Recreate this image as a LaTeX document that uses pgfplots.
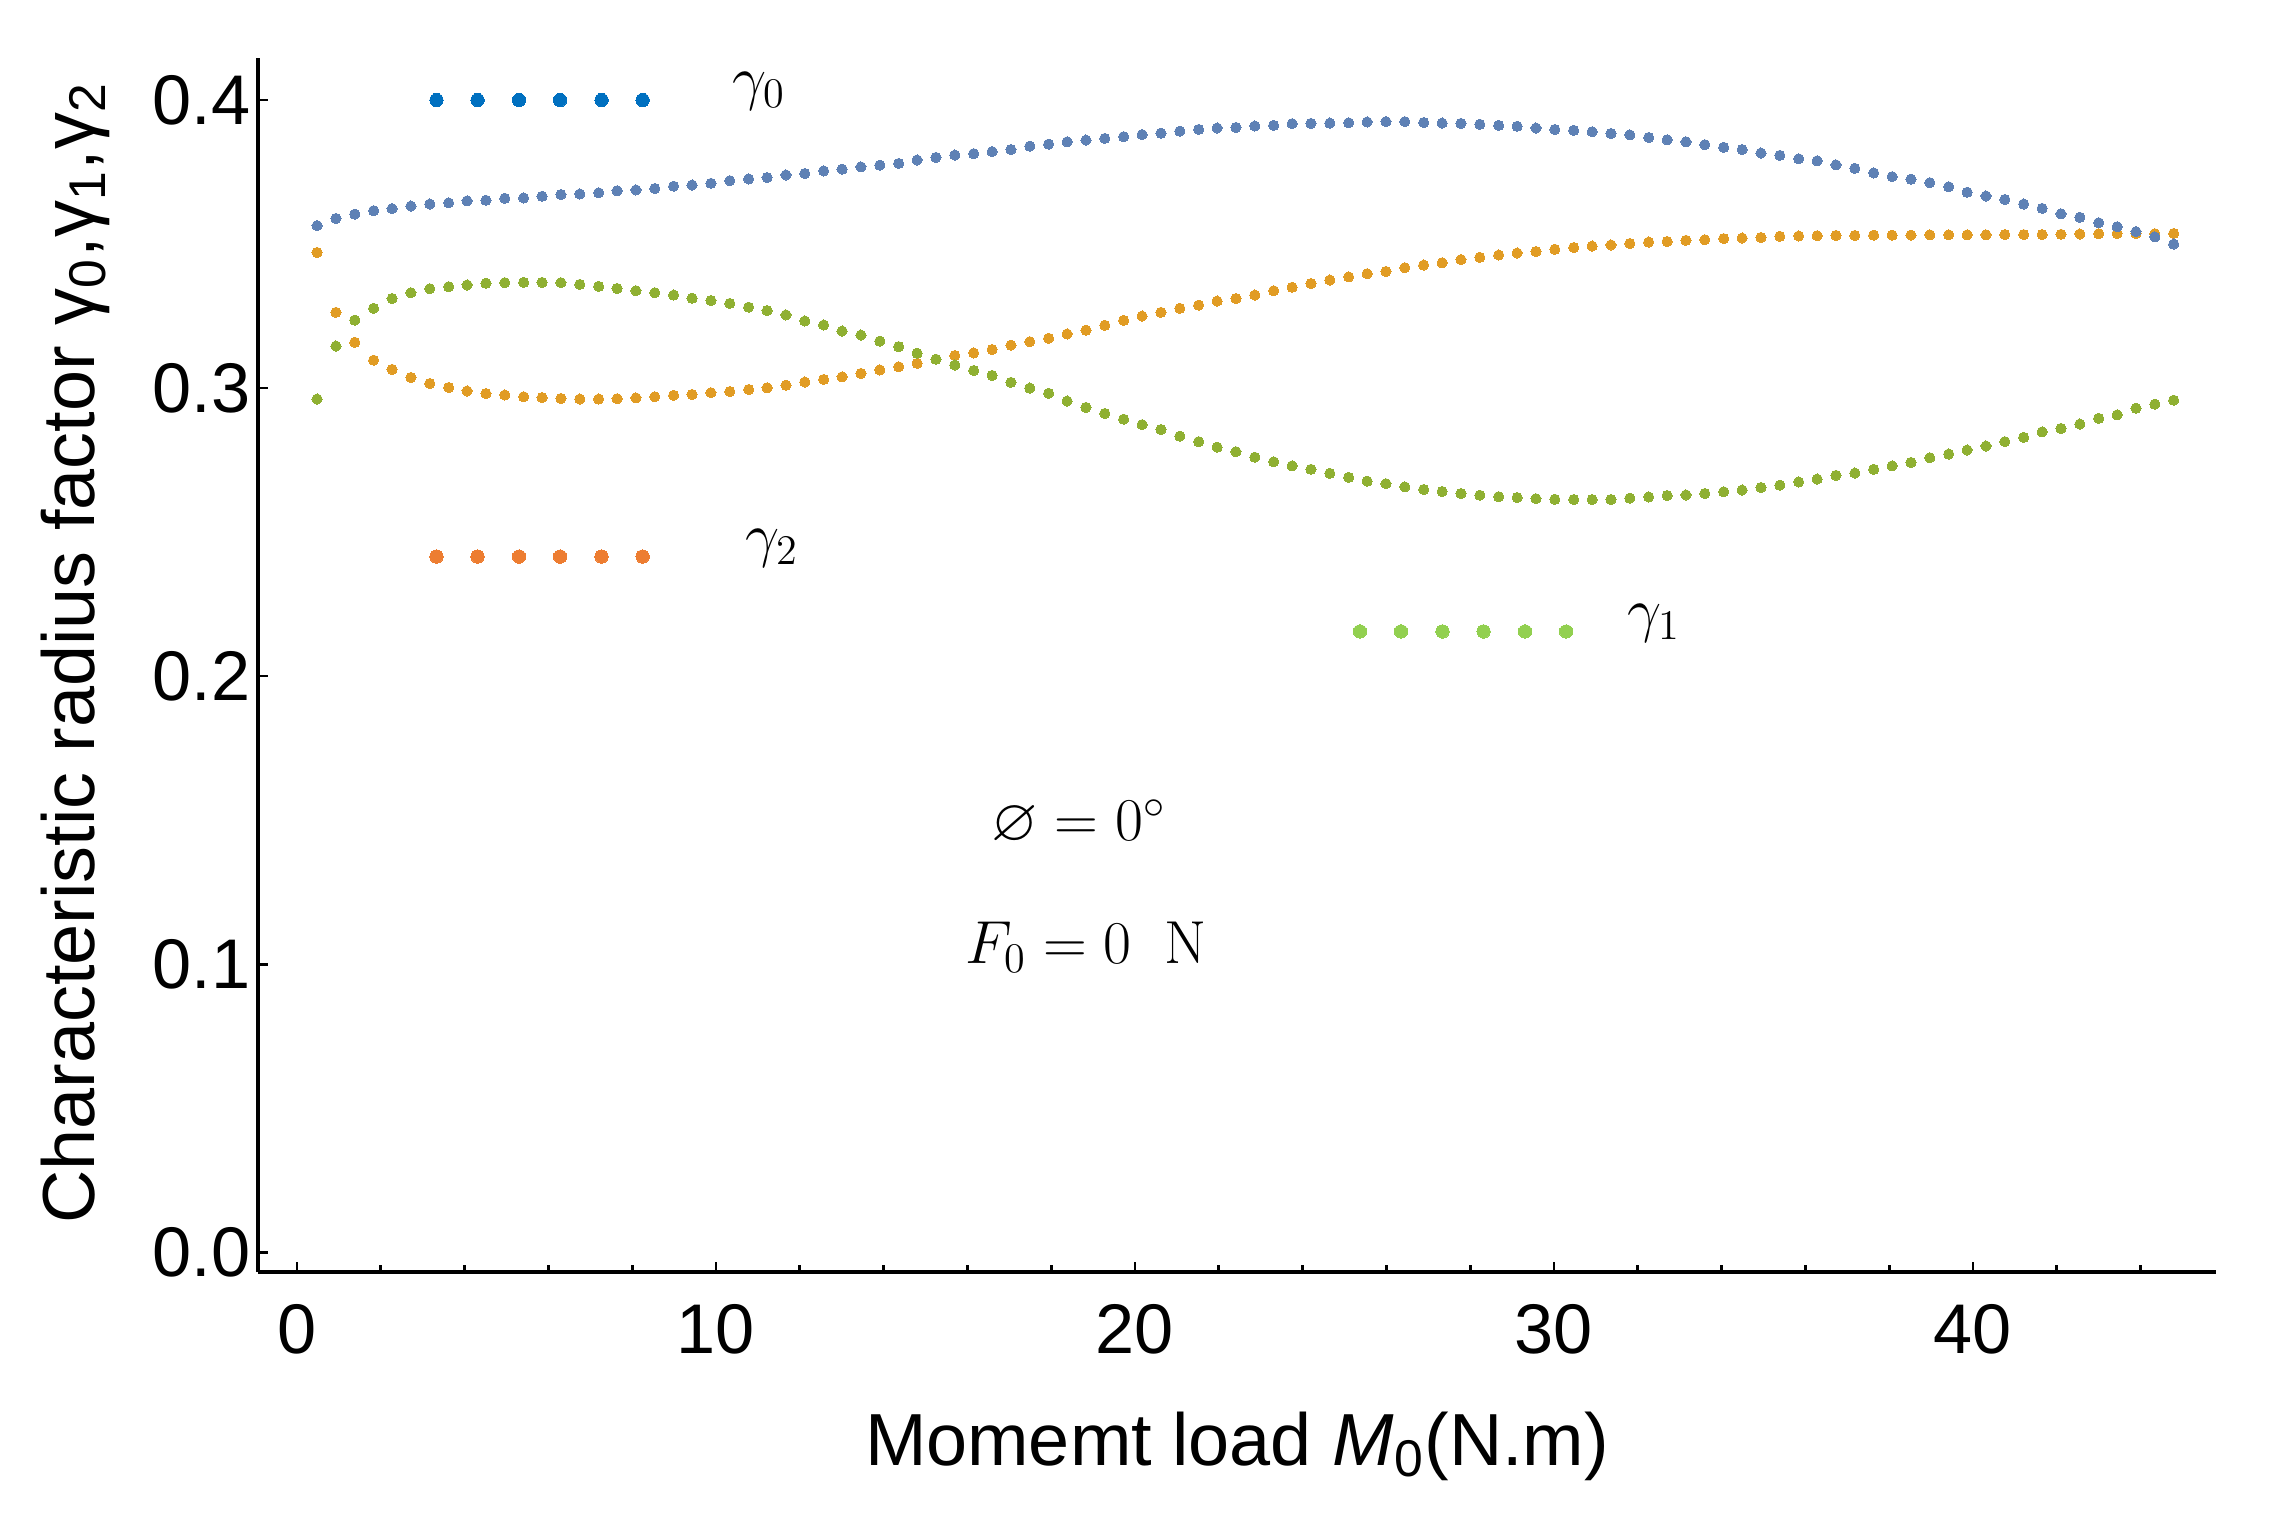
\documentclass[border=0pt]{standalone}
\usepackage{amssymb}
\usepackage[no-math]{fontspec}
\setmainfont{Liberation Sans}
\usepackage{pgfplots}
\usepackage{pgfplotstable}
\pgfplotsset{compat=1.18}
\definecolor{mblue}{RGB}{94,129,181}
\definecolor{morange}{RGB}{225,156,36}
\definecolor{mgreen}{RGB}{143,176,50}
\definecolor{lblue}{RGB}{0,112,192}
\definecolor{lorange}{RGB}{237,125,49}
\definecolor{lgreen}{RGB}{146,208,80}

% x  gamma0  gamma2(orange)  gamma1(green)
\pgfplotstableread{
x b o g
0.48 0.3564 0.3471 0.2962
0.93 0.3589 0.3263 0.3146
1.38 0.3604 0.3159 0.3236
1.83 0.3616 0.3097 0.3277
2.27 0.3623 0.3065 0.3311
2.72 0.3632 0.3037 0.3331
3.17 0.3639 0.3016 0.3345
3.62 0.3643 0.3002 0.3352
4.06 0.3650 0.2990 0.3358
4.51 0.3652 0.2981 0.3364
4.96 0.3659 0.2976 0.3366
5.41 0.3660 0.2970 0.3367
5.85 0.3666 0.2967 0.3367
6.30 0.3672 0.2964 0.3366
6.75 0.3674 0.2962 0.3360
7.20 0.3678 0.2962 0.3353
7.64 0.3685 0.2963 0.3346
8.09 0.3688 0.2966 0.3338
8.54 0.3693 0.2970 0.3331
8.99 0.3701 0.2975 0.3323
9.43 0.3705 0.2978 0.3312
9.88 0.3711 0.2984 0.3304
10.33 0.3720 0.2988 0.3294
10.78 0.3726 0.2995 0.3281
11.22 0.3731 0.3001 0.3269
11.67 0.3740 0.3010 0.3254
12.12 0.3745 0.3021 0.3233
12.57 0.3754 0.3030 0.3219
13.01 0.3760 0.3039 0.3198
13.46 0.3768 0.3051 0.3184
13.91 0.3774 0.3063 0.3163
14.36 0.3780 0.3074 0.3144
14.80 0.3792 0.3086 0.3121
15.25 0.3801 0.3100 0.3100
15.70 0.3809 0.3113 0.3080
16.15 0.3814 0.3122 0.3061
16.59 0.3821 0.3134 0.3044
17.04 0.3828 0.3149 0.3020
17.49 0.3840 0.3161 0.3000
17.94 0.3847 0.3173 0.2982
18.38 0.3855 0.3188 0.2955
18.83 0.3861 0.3201 0.2933
19.28 0.3867 0.3218 0.2912
19.73 0.3873 0.3235 0.2892
20.17 0.3880 0.3250 0.2873
20.62 0.3885 0.3263 0.2856
21.07 0.3892 0.3277 0.2833
21.52 0.3898 0.3288 0.2814
21.96 0.3903 0.3302 0.2795
22.41 0.3905 0.3311 0.2779
22.86 0.3910 0.3323 0.2760
23.31 0.3912 0.3338 0.2744
23.75 0.3918 0.3350 0.2730
24.20 0.3919 0.3363 0.2718
24.65 0.3920 0.3375 0.2704
25.10 0.3921 0.3386 0.2690
25.54 0.3924 0.3397 0.2677
25.99 0.3925 0.3405 0.2668
26.44 0.3925 0.3418 0.2657
26.89 0.3922 0.3427 0.2648
27.33 0.3920 0.3435 0.2641
27.78 0.3919 0.3446 0.2634
28.23 0.3916 0.3454 0.2628
28.68 0.3912 0.3462 0.2623
29.12 0.3909 0.3469 0.2620
29.57 0.3903 0.3474 0.2616
30.02 0.3898 0.3482 0.2614
30.47 0.3895 0.3488 0.2613
30.91 0.3890 0.3493 0.2613
31.36 0.3884 0.3497 0.2613
31.81 0.3879 0.3502 0.2618
32.26 0.3870 0.3507 0.2622
32.70 0.3862 0.3509 0.2627
33.15 0.3855 0.3513 0.2629
33.60 0.3845 0.3515 0.2634
34.05 0.3836 0.3519 0.2640
34.49 0.3828 0.3521 0.2646
34.94 0.3816 0.3523 0.2655
35.39 0.3808 0.3527 0.2663
35.84 0.3796 0.3528 0.2674
36.28 0.3789 0.3529 0.2684
36.73 0.3775 0.3530 0.2697
37.18 0.3763 0.3530 0.2705
37.63 0.3747 0.3531 0.2718
38.07 0.3734 0.3531 0.2730
38.52 0.3725 0.3531 0.2742
38.97 0.3713 0.3532 0.2758
39.42 0.3699 0.3532 0.2771
39.86 0.3680 0.3532 0.2785
40.31 0.3667 0.3532 0.2799
40.76 0.3655 0.3533 0.2814
41.21 0.3639 0.3533 0.2829
41.65 0.3624 0.3533 0.2848
42.10 0.3605 0.3534 0.2860
42.55 0.3593 0.3535 0.2875
43.00 0.3574 0.3536 0.2895
43.44 0.3560 0.3537 0.2907
43.89 0.3543 0.3536 0.2930
44.34 0.3525 0.3536 0.2944
44.79 0.3500 0.3537 0.2958
}\datatable

\begin{document}
\begin{tikzpicture}
\begin{axis}[
  at={(0,0)}, anchor=south west,
  scale only axis, width=19.58cm, height=12.14cm,
  xmin=-0.93, xmax=45.8, ymin=-0.0069, ymax=0.4146,
  axis x line*=bottom, axis y line*=left,
  axis line style={line width=1.1pt, -},
  xtick={0,10,20,30,40},
  minor xtick={2,4,6,8,12,14,16,18,22,24,26,28,32,34,36,38,42,44},
  ytick={0,0.1,0.2,0.3,0.4},
  tick align=inside,
  major tick length=0.1cm, minor tick length=0.07cm,
  tick style={black, line width=0.8pt},
  /pgf/number format/assume math mode=true,
  ticklabel style={font=\fontsize{20}{24}\selectfont},
  yticklabel style={/pgf/number format/fixed, /pgf/number format/fixed zerofill, /pgf/number format/precision=1, xshift=0.05cm},
  xticklabel style={yshift=-0.2cm},
  xlabel={Momemt load \textit{M}\textsubscript{0}(N.m)},
  ylabel={Characteristic radius factor γ\textsubscript{0},γ\textsubscript{1},γ\textsubscript{2}},
  every axis x label/.style={at={(axis description cs:0.5,-0.144)}, anchor=center, font=\fontsize{21}{25}\selectfont},
  every axis y label/.style={at={(axis description cs:-0.093,0.51)}, anchor=center, rotate=90, font=\fontsize{21}{25}\selectfont},
  clip=false,
]
\addplot[only marks, mark=*, mark size=1.45pt, color=morange, mark options={fill=morange, draw=morange, line width=0pt}] table[x=x, y=o] {\datatable};
\addplot[only marks, mark=*, mark size=1.45pt, color=mgreen, mark options={fill=mgreen, draw=mgreen, line width=0pt}] table[x=x, y=g] {\datatable};
\addplot[only marks, mark=*, mark size=1.45pt, color=mblue, mark options={fill=mblue, draw=mblue, line width=0pt}] table[x=x, y=b] {\datatable};

% legend-like markers
\addplot[only marks, mark=*, mark size=1.9pt, color=lblue, mark options={fill=lblue, draw=lblue, line width=0pt}]
  coordinates {(3.33,0.4) (4.31,0.4) (5.30,0.4) (6.28,0.4) (7.27,0.4) (8.25,0.4)};
\addplot[only marks, mark=*, mark size=1.9pt, color=lorange, mark options={fill=lorange, draw=lorange, line width=0pt}]
  coordinates {(3.33,0.2415) (4.31,0.2415) (5.30,0.2415) (6.28,0.2415) (7.27,0.2415) (8.25,0.2415)};
\addplot[only marks, mark=*, mark size=1.9pt, color=lgreen, mark options={fill=lgreen, draw=lgreen, line width=0pt}]
  coordinates {(25.37,0.2155) (26.35,0.2155) (27.34,0.2155) (28.32,0.2155) (29.31,0.2155) (30.29,0.2155)};

\node[anchor=base west, inner sep=0pt, font=\fontsize{17}{20}\selectfont] at (axis cs:10.37,0.4005) {$\gamma_0$};
\node[anchor=base west, inner sep=0pt, font=\fontsize{17}{20}\selectfont] at (axis cs:10.68,0.2420) {$\gamma_2$};
\node[anchor=base west, inner sep=0pt, font=\fontsize{17}{20}\selectfont] at (axis cs:31.73,0.2160) {$\gamma_1$};
\node[anchor=west, inner sep=0pt, font=\fontsize{17}{20}\selectfont] at (axis cs:16.56,0.149) {$\varnothing = 0^{\circ}$};
\node[anchor=west, inner sep=0pt, font=\fontsize{17}{20}\selectfont] at (axis cs:15.94,0.1059) {$F_0 = 0\ \ \mathrm{N}$};
\end{axis}
\pgfresetboundingbox
\path (-2.58cm,-2.40cm) rectangle (20.16cm,12.72cm);
\end{tikzpicture}
\end{document}
